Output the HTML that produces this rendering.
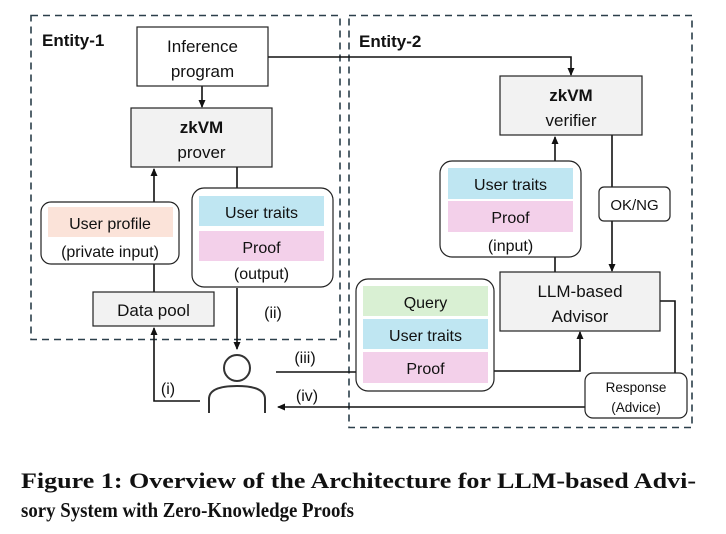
<!DOCTYPE html>
<html><head><meta charset="utf-8"><style>
html,body{margin:0;padding:0;background:#fff;}
svg{display:block;}
text{font-family:"Liberation Sans",sans-serif;fill:#111;}
</style></head><body>
<svg width="726" height="534" viewBox="0 0 726 534" xmlns="http://www.w3.org/2000/svg">
<defs>
<marker id="a" markerWidth="8" markerHeight="8" refX="7" refY="4" orient="auto" markerUnits="userSpaceOnUse">
<path d="M0,0.5 L8,4 L0,7.5 z" fill="#111"/></marker>
</defs>
<rect x="31" y="15.5" width="309" height="324" fill="none" stroke="#2b3f4a" stroke-width="1.6" stroke-dasharray="7,5"/>
<rect x="349" y="15.5" width="343" height="412" fill="none" stroke="#2b3f4a" stroke-width="1.6" stroke-dasharray="7,5"/>
<text x="42" y="46" font-size="17" font-weight="bold">Entity-1</text>
<text x="359" y="47" font-size="17" font-weight="bold">Entity-2</text>

<g stroke="#111" stroke-width="1.6" fill="none">
<line x1="202" y1="86" x2="202" y2="107" marker-end="url(#a)"/>
<polyline points="268,57 571,57 571,75" marker-end="url(#a)"/>
<line x1="154" y1="202" x2="154" y2="169" marker-end="url(#a)"/>
<line x1="154" y1="264" x2="154" y2="292"/>
<line x1="237" y1="167" x2="237" y2="188"/>
<line x1="237" y1="288" x2="237" y2="349" marker-end="url(#a)"/>
<polyline points="200,401 154,401 154,328" marker-end="url(#a)"/>
<line x1="276" y1="372" x2="356" y2="372"/>
<polyline points="494,371 580,371 580,332" marker-end="url(#a)"/>
<line x1="555" y1="161" x2="555" y2="137" marker-end="url(#a)"/>
<line x1="555" y1="257" x2="555" y2="272"/>
<line x1="612" y1="135" x2="612" y2="187"/>
<line x1="612" y1="221" x2="612" y2="271" marker-end="url(#a)"/>
<polyline points="660,301 675,301 675,373"/>
<line x1="585" y1="407" x2="278" y2="407" marker-end="url(#a)"/>
</g>

<rect x="137" y="27" width="131" height="59" fill="#fff" stroke="#222" stroke-width="1.2"/>
<text x="202.5" y="52" font-size="17" text-anchor="middle">Inference</text>
<text x="202.5" y="77" font-size="17" text-anchor="middle">program</text>

<rect x="131" y="108" width="141" height="59" fill="#f2f2f2" stroke="#222" stroke-width="1.2"/>
<text x="201.5" y="133" font-size="17" font-weight="bold" text-anchor="middle">zkVM</text>
<text x="201.5" y="158" font-size="17" text-anchor="middle">prover</text>

<rect x="41" y="202" width="138" height="62" rx="10" fill="#fff" stroke="#222" stroke-width="1.2"/>
<rect x="48" y="207" width="125" height="30" fill="#fbe3d9"/>
<text x="110" y="229" font-size="16" text-anchor="middle">User profile</text>
<text x="110" y="257" font-size="16" text-anchor="middle">(private input)</text>

<rect x="192" y="188" width="141" height="99" rx="12" fill="#fff" stroke="#222" stroke-width="1.2"/>
<rect x="199" y="196" width="125" height="30" fill="#bfe6f2"/>
<rect x="199" y="231" width="125" height="30" fill="#f3d0ea"/>
<text x="261.5" y="218" font-size="16" text-anchor="middle">User traits</text>
<text x="261.5" y="253" font-size="16" text-anchor="middle">Proof</text>
<text x="261.5" y="279" font-size="16" text-anchor="middle">(output)</text>

<rect x="93" y="292" width="121" height="34" fill="#f2f2f2" stroke="#222" stroke-width="1.2"/>
<text x="153.5" y="316" font-size="17" text-anchor="middle">Data pool</text>
<text x="273" y="318" font-size="16" text-anchor="middle" fill="#333">(ii)</text>

<circle cx="237" cy="368" r="13" fill="none" stroke="#333" stroke-width="2"/>
<path d="M209,413 L209,399 Q209,386 237,386 Q265,386 265,399 L265,413" fill="none" stroke="#333" stroke-width="2"/>
<text x="168" y="394" font-size="16" text-anchor="middle" fill="#333">(i)</text>
<text x="305" y="363" font-size="16" text-anchor="middle" fill="#333">(iii)</text>
<text x="307" y="401" font-size="16" text-anchor="middle" fill="#333">(iv)</text>

<rect x="500" y="76" width="142" height="59" fill="#f2f2f2" stroke="#222" stroke-width="1.2"/>
<text x="571" y="101" font-size="17" font-weight="bold" text-anchor="middle">zkVM</text>
<text x="571" y="126" font-size="17" text-anchor="middle">verifier</text>

<rect x="440" y="161" width="141" height="96" rx="12" fill="#fff" stroke="#222" stroke-width="1.2"/>
<rect x="448" y="168" width="125" height="31" fill="#bfe6f2"/>
<rect x="448" y="201" width="125" height="31" fill="#f3d0ea"/>
<text x="510.5" y="190" font-size="16" text-anchor="middle">User traits</text>
<text x="510.5" y="223" font-size="16" text-anchor="middle">Proof</text>
<text x="510.5" y="251" font-size="16" text-anchor="middle">(input)</text>

<rect x="599" y="187" width="71" height="34" rx="5" fill="#fff" stroke="#222" stroke-width="1.2"/>
<text x="634.5" y="210" font-size="15" text-anchor="middle" fill="#222">OK/NG</text>

<rect x="500" y="272" width="160" height="59" fill="#f2f2f2" stroke="#222" stroke-width="1.2"/>
<text x="580" y="297" font-size="17" text-anchor="middle">LLM-based</text>
<text x="580" y="322" font-size="17" text-anchor="middle">Advisor</text>

<rect x="356" y="279" width="138" height="112" rx="12" fill="#fff" stroke="#222" stroke-width="1.2"/>
<rect x="363" y="286" width="125" height="30" fill="#d9f0d3"/>
<rect x="363" y="319" width="125" height="30" fill="#bfe6f2"/>
<rect x="363" y="352" width="125" height="31" fill="#f3d0ea"/>
<text x="425.5" y="308" font-size="16" text-anchor="middle">Query</text>
<text x="425.5" y="341" font-size="16" text-anchor="middle">User traits</text>
<text x="425.5" y="374" font-size="16" text-anchor="middle">Proof</text>

<rect x="585" y="373" width="102" height="45" rx="8" fill="#fff" stroke="#222" stroke-width="1.2"/>
<text x="636" y="392" font-size="13.5" text-anchor="middle" fill="#222">Response</text>
<text x="636" y="412" font-size="13.5" text-anchor="middle" fill="#222">(Advice)</text>

<text x="21" y="488" font-size="22" font-weight="bold" textLength="675" lengthAdjust="spacingAndGlyphs" style="font-family:'Liberation Serif',serif">Figure 1: Overview of the Architecture for LLM-based Advi-</text>
<text x="21" y="517" font-size="21" font-weight="bold" textLength="333" lengthAdjust="spacingAndGlyphs" style="font-family:'Liberation Serif',serif">sory System with Zero-Knowledge Proofs</text>
</svg>
</body></html>
